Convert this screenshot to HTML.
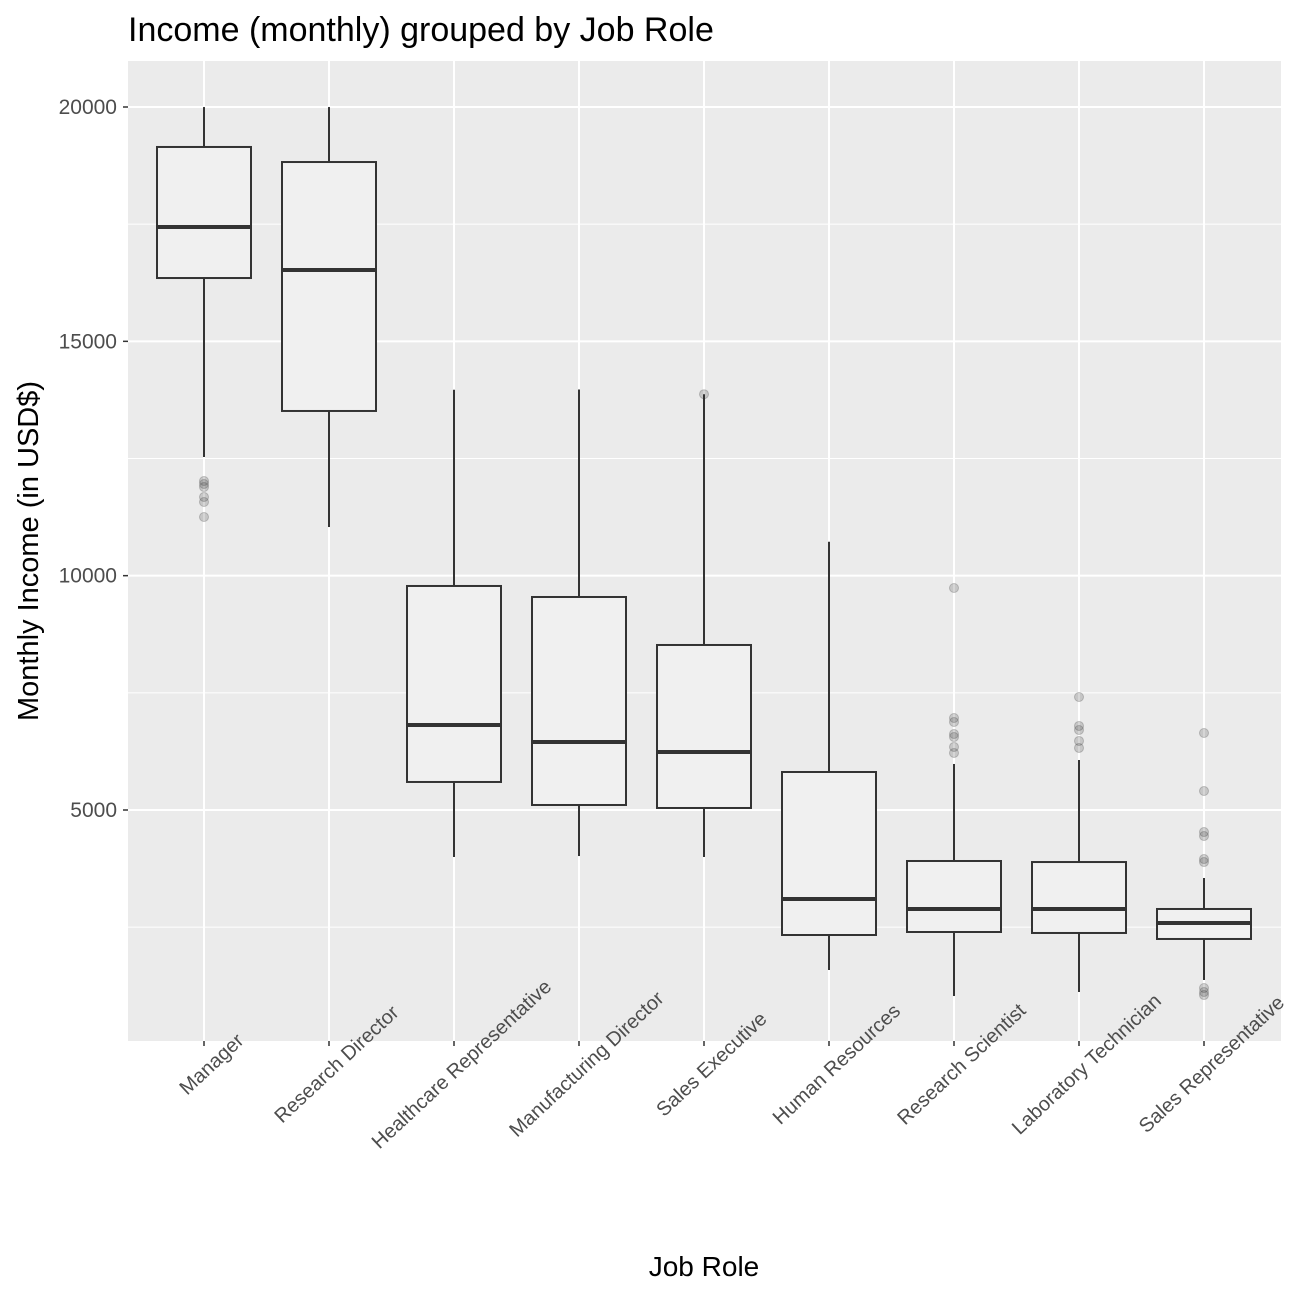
<!DOCTYPE html>
<html><head><meta charset="utf-8"><style>body{margin:0;background:#fff}svg{display:block}text{font-family:"Liberation Sans",Arial,sans-serif}</style></head>
<body>
<svg id="chart" width="1296" height="1296"></svg>
<script>
const categories=["Manager","Research Director","Healthcare Representative","Manufacturing Director","Sales Executive","Human Resources","Research Scientist","Laboratory Technician","Sales Representative"];
const lowerWhisker=[12532,11038,3997,4018,3997,1586,1031,1117,1373];
const q1=[16351,13514,5598,5107,5043,2333,2397,2376,2248];
const median=[17440,16522,6814,6451,6238,3101,2888,2888,2589];
const q3=[19147,18826,9780,9545,8521,5811,3912,3890,2888];
const upperWhisker=[19999,19999,13966,13973,13872,10725,5982,6067,3549];
const outliers=[[12020,11956,11892,11679,11572,11252],[],[],[],[13872],[],[9737,6963,6878,6622,6558,6345,6217],[7411,6793,6707,6473,6324],[6643,5405,4530,4445,3954,3890,1202,1117,1052]];
const yTicks=[5000,10000,15000,20000];
const yMinor=[2500,7500,12500,17500];
const NS="http://www.w3.org/2000/svg";
const svg=document.getElementById('chart');
const PL=128,PR=1281,PT=61,PB=1041;
function y(v){return 107+(20000-v)*0.046867;}
function x(i){return 204+i*125;}
function el(t,a,p){const e=document.createElementNS(NS,t);for(const k in a)e.setAttribute(k,a[k]);(p||svg).appendChild(e);return e;}
const panel=el('rect',{x:PL,y:PT,width:PR-PL,height:PB-PT,fill:'#ebebeb'});


yMinor.forEach(v=>{const l=el('line',{x1:PL,x2:PR,y1:y(v),y2:y(v),stroke:'#fff','stroke-width':1});});
yTicks.forEach(v=>{const l=el('line',{x1:PL,x2:PR,y1:y(v),y2:y(v),stroke:'#fff','stroke-width':2});
const tk=el('line',{x1:PL-5,x2:PL,y1:y(v),y2:y(v),stroke:'#333','stroke-width':1.5});
const t=el('text',{x:PL-11,y:y(v)+7,'text-anchor':'end','font-size':21,fill:'#4d4d4d'});t.textContent=v;});
categories.forEach((c,i)=>{const l=el('line',{x1:x(i),x2:x(i),y1:PT,y2:PB,stroke:'#fff','stroke-width':2});});
categories.forEach((c,i)=>{
const g=el('g',{});
const cx=x(i),hw=47;
el('line',{x1:cx,x2:cx,y1:y(upperWhisker[i]),y2:y(q3[i]),stroke:'#333','stroke-width':2},g);
el('line',{x1:cx,x2:cx,y1:y(q1[i]),y2:y(lowerWhisker[i]),stroke:'#333','stroke-width':2},g);
el('rect',{x:cx-hw,y:y(q3[i]),width:2*hw,height:y(q1[i])-y(q3[i]),fill:'#f0f0f0',stroke:'#333','stroke-width':2},g);
el('line',{x1:cx-hw,x2:cx+hw,y1:y(median[i]),y2:y(median[i]),stroke:'#333','stroke-width':4},g);
outliers[i].forEach(v=>{const p=el('circle',{cx:cx,cy:y(v),r:4.5,fill:'#333','fill-opacity':0.2,stroke:'#333','stroke-opacity':0.25},g);});
const tk=el('line',{x1:cx,x2:cx,y1:PB,y2:PB+5,stroke:'#333','stroke-width':1.5});
const t=el('text',{x:0,y:0,'text-anchor':'middle','font-size':20,fill:'#4d4d4d',transform:`translate(${cx+12},${PB+28}) rotate(-43)`});t.textContent=c;
});
const ti=el('text',{x:128,y:41,'font-size':34,fill:'#000'});ti.textContent='Income (monthly) grouped by Job Role';
const xt=el('text',{x:704,y:1276,'text-anchor':'middle','font-size':28,fill:'#000'});xt.textContent='Job Role';
const yt=el('text',{x:0,y:0,'text-anchor':'middle','font-size':29,fill:'#000',transform:'translate(38,551) rotate(-90)'});yt.textContent='Monthly Income (in USD$)';
</script>
</body></html>
